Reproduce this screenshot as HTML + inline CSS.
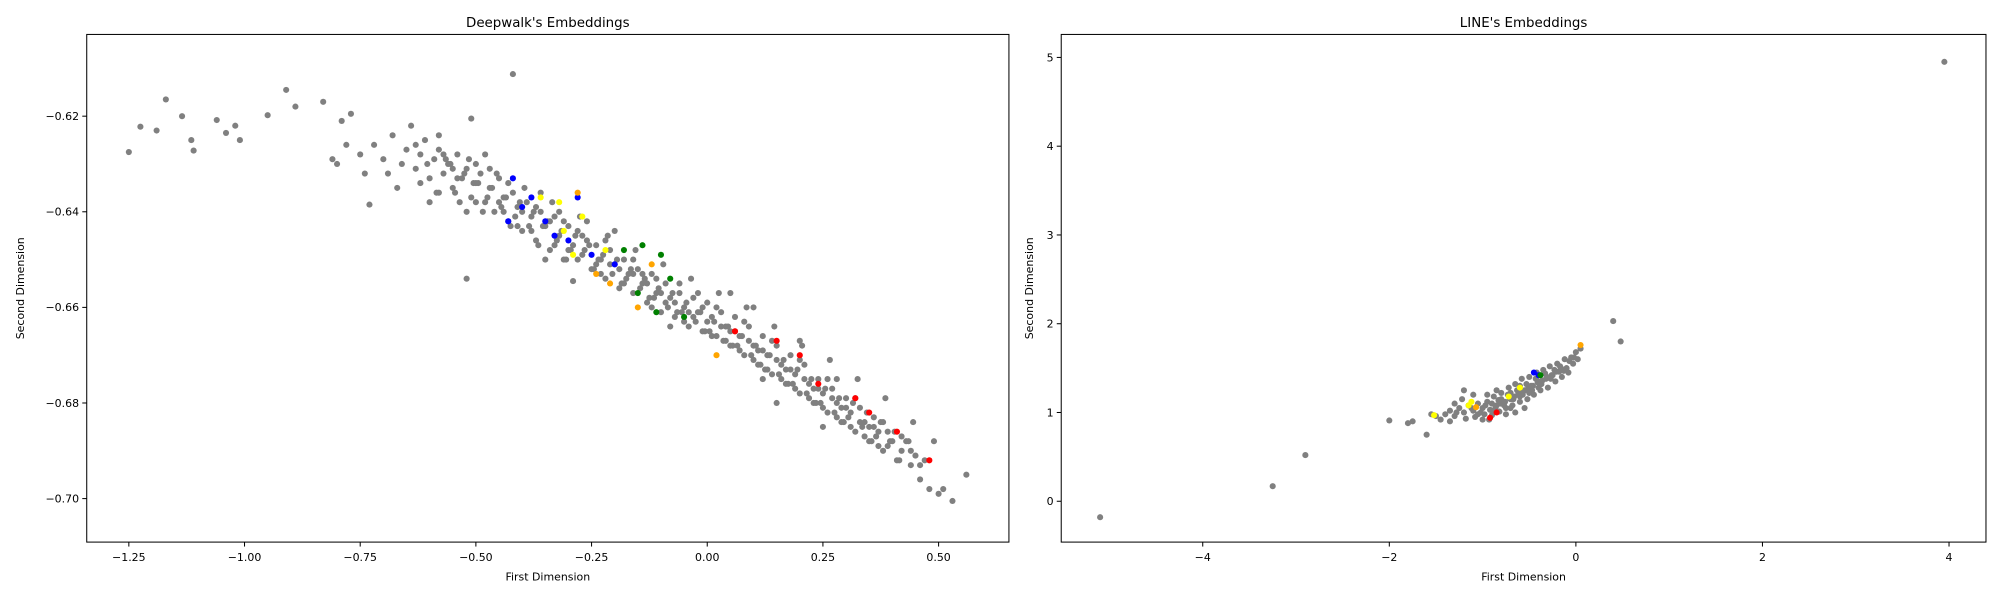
<!DOCTYPE html>
<html><head><meta charset="utf-8"><style>
html,body{margin:0;padding:0;background:#fff;}
svg{display:block;font-family:"DejaVu Sans","Liberation Sans",sans-serif;}
</style></head><body>
<svg id="fig" width="2000" height="600" xmlns="http://www.w3.org/2000/svg">
<rect width="2000" height="600" fill="#fff"/>
<g id="root" transform="scale(1.27551)"></g>
</svg>
<script>
// ---- Left chart data (Deepwalk) ----
const dwGrayX = [-1.25,-1.225,-1.19,-1.17,-1.135,-1.115,-1.11,-1.06,-1.04,-1.02,-1.01,-0.95,-0.91,-0.89,-0.83,-0.79,-0.77,-0.81,-0.80,-0.73,-0.42,-0.51,-0.52,-0.29,
-0.72,-0.70,-0.68,-0.66,-0.65,-0.64,-0.63,-0.62,-0.61,-0.60,-0.59,-0.58,-0.57,-0.56,-0.55,-0.54,-0.53,-0.52,-0.51,-0.50,-0.49,-0.48,-0.47,-0.46,-0.45,-0.44,-0.43,-0.42,-0.41,-0.40,-0.39,-0.38,-0.37,-0.36,-0.35,-0.34,-0.33,-0.32,-0.31,-0.30,-0.29,-0.28,-0.27,-0.26,-0.25,-0.24,-0.23,-0.22,-0.21,-0.20,-0.19,-0.18,-0.17,-0.16,-0.15,-0.14,-0.13,-0.12,-0.11,-0.10,-0.09,-0.08,-0.07,-0.06,-0.05,-0.04,-0.03,-0.02,-0.01,0.00,0.01,0.02,0.03,0.04,0.05,0.06,0.07,0.08,0.09,0.10,0.11,0.12,0.13,0.14,0.15,0.16,0.17,0.18,0.19,0.20,0.21,0.22,0.23,0.24,0.25,0.26,0.27,0.28,0.29,0.30,0.31,0.32,0.33,0.34,0.35,0.36,0.37,0.38,0.39,0.40,0.42,0.44,0.46,0.48,0.50,0.53,0.56,
-0.69,-0.63,-0.57,-0.55,-0.50,-0.45,-0.43,-0.40,-0.37,-0.34,-0.32,-0.30,-0.27,-0.24,-0.22,-0.19,-0.16,-0.14,-0.11,-0.09,-0.06,-0.04,-0.02,0.00,0.02,0.04,0.06,0.08,0.10,0.12,0.14,0.16,0.18,0.20,0.22,0.24,0.26,0.28,0.30,0.32,0.34,0.36,0.38,0.41,0.43,0.45,-0.60,-0.58,-0.35,-0.20,0.05,0.15,0.28,-0.48,-0.52,-0.75,-0.78,-0.74,-0.67,0.47,
-0.62,-0.58,-0.54,-0.50,-0.47,-0.44,-0.41,-0.38,-0.36,-0.33,-0.31,-0.28,-0.26,-0.23,-0.21,-0.18,-0.16,-0.13,-0.12,-0.10,-0.07,-0.05,-0.03,-0.01,0.01,0.03,0.05,0.07,0.09,0.11,0.13,0.15,0.17,0.19,0.21,0.23,0.25,0.27,0.29,0.31,0.33,0.35,0.37,0.39,0.42,0.44,0.46,0.49,0.51,0.10,0.20,-0.08,0.12,0.25,
-0.555,-0.525,-0.495,-0.465,-0.435,-0.405,-0.375,-0.345,-0.315,-0.285,-0.255,-0.225,-0.195,-0.165,-0.135,-0.105,-0.075,-0.045,-0.015,0.015,0.045,0.075,0.105,0.135,0.165,0.195,0.225,0.255,0.285,0.315,0.345,0.375,0.405,0.435,
-0.545,-0.515,-0.485,-0.455,-0.425,-0.395,-0.365,-0.335,-0.305,-0.275,-0.245,-0.215,-0.185,-0.155,-0.125,-0.095,-0.065,-0.035,-0.005,0.025,0.055,0.085,0.115,0.145,0.175,0.205,0.235,0.265,0.295,0.325,0.355,0.385,0.415,0.445,
-0.605,-0.585,-0.565,-0.535,-0.505,-0.475,-0.445,-0.415,-0.385,-0.355,-0.325,-0.295,-0.265,-0.235,-0.205,-0.175,-0.145,-0.115,-0.085,-0.055,-0.025,0.005,0.035,0.065,0.095,0.125,0.155,0.185,0.215,0.245,0.275,0.305,0.335,0.365,0.395];
const dwGrayY = [-0.6275,-0.6222,-0.623,-0.6165,-0.620,-0.625,-0.6272,-0.6208,-0.6235,-0.622,-0.625,-0.6198,-0.6145,-0.618,-0.617,-0.621,-0.6195,-0.629,-0.630,-0.6385,-0.6112,-0.6205,-0.654,-0.6545,
-0.626,-0.629,-0.624,-0.630,-0.627,-0.622,-0.631,-0.628,-0.625,-0.633,-0.629,-0.627,-0.632,-0.630,-0.635,-0.628,-0.633,-0.631,-0.637,-0.634,-0.632,-0.638,-0.635,-0.640,-0.633,-0.637,-0.642,-0.636,-0.639,-0.644,-0.638,-0.641,-0.646,-0.640,-0.643,-0.648,-0.641,-0.645,-0.650,-0.643,-0.647,-0.644,-0.649,-0.646,-0.652,-0.647,-0.650,-0.654,-0.648,-0.651,-0.656,-0.650,-0.653,-0.657,-0.652,-0.655,-0.659,-0.653,-0.657,-0.661,-0.655,-0.658,-0.662,-0.657,-0.660,-0.664,-0.658,-0.661,-0.665,-0.659,-0.662,-0.666,-0.661,-0.664,-0.668,-0.662,-0.666,-0.670,-0.664,-0.668,-0.672,-0.666,-0.670,-0.674,-0.668,-0.672,-0.676,-0.670,-0.674,-0.678,-0.672,-0.676,-0.680,-0.675,-0.678,-0.682,-0.677,-0.680,-0.684,-0.679,-0.682,-0.686,-0.681,-0.684,-0.688,-0.683,-0.686,-0.690,-0.686,-0.688,-0.690,-0.693,-0.696,-0.698,-0.699,-0.7005,-0.695,
-0.632,-0.626,-0.628,-0.631,-0.630,-0.638,-0.634,-0.640,-0.639,-0.642,-0.640,-0.648,-0.645,-0.651,-0.646,-0.652,-0.650,-0.653,-0.654,-0.659,-0.655,-0.661,-0.657,-0.663,-0.660,-0.667,-0.665,-0.663,-0.671,-0.669,-0.667,-0.675,-0.673,-0.671,-0.679,-0.677,-0.675,-0.683,-0.681,-0.679,-0.687,-0.685,-0.684,-0.692,-0.688,-0.691,-0.638,-0.624,-0.650,-0.644,-0.657,-0.680,-0.675,-0.628,-0.640,-0.628,-0.626,-0.632,-0.635,-0.692,
-0.634,-0.636,-0.633,-0.638,-0.631,-0.640,-0.643,-0.644,-0.636,-0.647,-0.642,-0.650,-0.642,-0.653,-0.651,-0.655,-0.653,-0.655,-0.660,-0.657,-0.659,-0.663,-0.662,-0.660,-0.666,-0.664,-0.665,-0.669,-0.667,-0.669,-0.673,-0.671,-0.673,-0.677,-0.675,-0.677,-0.681,-0.679,-0.681,-0.685,-0.684,-0.685,-0.689,-0.689,-0.687,-0.690,-0.693,-0.688,-0.698,-0.660,-0.667,-0.664,-0.675,-0.685,
-0.630,-0.632,-0.634,-0.635,-0.637,-0.638,-0.640,-0.642,-0.644,-0.645,-0.647,-0.649,-0.650,-0.652,-0.654,-0.656,-0.657,-0.659,-0.661,-0.663,-0.664,-0.666,-0.668,-0.670,-0.671,-0.673,-0.675,-0.677,-0.679,-0.680,-0.682,-0.684,-0.686,-0.688,
-0.636,-0.629,-0.640,-0.632,-0.643,-0.635,-0.647,-0.638,-0.650,-0.641,-0.652,-0.645,-0.655,-0.648,-0.658,-0.651,-0.661,-0.654,-0.665,-0.657,-0.668,-0.660,-0.672,-0.664,-0.676,-0.668,-0.680,-0.671,-0.684,-0.675,-0.688,-0.679,-0.692,-0.684,
-0.630,-0.636,-0.629,-0.638,-0.634,-0.637,-0.639,-0.641,-0.643,-0.643,-0.646,-0.648,-0.648,-0.650,-0.653,-0.654,-0.656,-0.658,-0.660,-0.661,-0.663,-0.665,-0.667,-0.668,-0.670,-0.673,-0.674,-0.676,-0.678,-0.680,-0.682,-0.683,-0.685,-0.687,-0.688];
const dwBlueX = [-0.42,-0.40,-0.43,-0.35,-0.30,-0.25,-0.28,-0.20,-0.38,-0.33];
const dwBlueY = [-0.633,-0.639,-0.642,-0.642,-0.646,-0.649,-0.637,-0.651,-0.637,-0.645];
const dwYellowX = [-0.36,-0.32,-0.27,-0.31,-0.22,-0.29];
const dwYellowY = [-0.637,-0.638,-0.641,-0.644,-0.648,-0.649];
const dwOrangeX = [-0.28,-0.24,-0.21,-0.12,0.02,-0.15];
const dwOrangeY = [-0.636,-0.653,-0.655,-0.651,-0.670,-0.660];
const dwGreenX = [-0.18,-0.14,-0.10,-0.08,-0.11,-0.15,-0.05];
const dwGreenY = [-0.648,-0.647,-0.649,-0.654,-0.661,-0.657,-0.662];
const dwRedX = [0.06,0.20,0.24,0.32,0.41,0.48,0.15,0.35];
const dwRedY = [-0.665,-0.670,-0.676,-0.679,-0.686,-0.692,-0.667,-0.682];
const dwXTicks = [-1.25,-1.00,-0.75,-0.50,-0.25,0.00,0.25,0.50];
const dwYTicks = [-0.62,-0.64,-0.66,-0.68,-0.70];

// ---- Right chart data (LINE) ----
const lnGrayX = [-1.40,-1.35,-1.30,-1.25,-1.20,-1.18,-1.15,-1.10,-1.08,-1.05,-1.00,-0.98,-0.95,-0.92,-0.90,-0.88,-0.85,-0.82,-0.80,-0.78,-0.75,-0.72,-0.70,-0.68,-0.65,-0.62,-0.60,-0.58,-0.55,-0.52,-0.50,-0.48,-0.45,-0.42,-0.40,-0.38,-0.35,-0.32,-0.30,-0.28,-0.25,-0.22,-0.20,-0.18,-0.15,-0.12,-0.10,-0.08,-0.05,-0.03,0.00,0.02,-1.30,-1.22,-1.45,-1.55,-1.35,-0.95,-0.70,-0.60,-0.50,-0.85,-0.40,-0.65,-0.75,-1.00,0.05,-1.60,-1.75,-1.80,-2.0,-2.9,-3.25,-5.1,3.95,0.40,0.48,-1.5,-1.20,-0.55,-1.1,
-1.28,-1.12,-1.02,-0.97,-0.88,-0.83,-0.77,-0.73,-0.67,-0.63,-0.57,-0.53,-0.47,-0.43,-0.37,-0.33,-0.27,-0.23,-0.17,-0.13,-0.07,-0.02,-0.90,-0.80,-0.60,-1.05,-0.93,-0.70,
-0.86,-0.76,-0.66,-0.56,-0.46,-0.36,-0.26,-0.16,-0.81,-0.71,-0.61,-0.51,-0.41,-0.31,-0.21];
const lnGrayY = [0.98,1.02,0.96,1.05,1.00,0.93,1.08,1.02,0.95,1.10,1.05,0.98,1.12,1.03,0.97,1.18,1.08,1.01,1.22,1.12,1.05,1.28,1.15,1.08,1.32,1.20,1.12,1.38,1.25,1.15,1.40,1.30,1.20,1.45,1.35,1.25,1.48,1.38,1.28,1.52,1.42,1.35,1.55,1.46,1.40,1.60,1.50,1.45,1.62,1.55,1.68,1.60,1.10,1.15,0.92,0.98,0.90,1.20,1.22,1.30,1.22,1.25,1.28,1.00,0.98,0.92,1.72,0.75,0.90,0.88,0.91,0.52,0.17,-0.18,4.95,2.03,1.80,0.96,1.25,1.05,1.2,
1.00,1.05,1.00,1.08,1.02,1.14,1.08,1.20,1.15,1.25,1.20,1.32,1.25,1.38,1.32,1.44,1.38,1.48,1.52,1.47,1.58,1.62,1.10,1.15,1.18,0.98,0.92,1.05,
1.06,1.12,1.18,1.24,1.30,1.36,1.42,1.50,1.10,1.16,1.22,1.28,1.34,1.40,1.46];
const lnYellowX = [-1.15,-1.12,-1.52,-0.60,-0.72];
const lnYellowY = [1.08,1.12,0.97,1.28,1.18];
const lnBlueX = [-0.45,-0.40];
const lnBlueY = [1.45,1.42];
const lnOrangeX = [0.05,-1.07];
const lnOrangeY = [1.76,1.06];
const lnRedX = [-0.92,-0.85];
const lnRedY = [0.94,1.0];
const lnGreenX = [-0.38];
const lnGreenY = [1.42];
const lnXTicks = [-4,-2,0,2,4];
const lnYTicks = [0,1,2,3,4,5];

const NS = "http://www.w3.org/2000/svg";
const root = document.getElementById('root');
function mk(tag, attrs, parent) {
  const e = document.createElementNS(NS, tag);
  for (const k in attrs) e.setAttribute(k, attrs[k]);
  (parent || root).appendChild(e);
  return e;
}
function fmt(v, d) { const s = Math.abs(v).toFixed(d); return (v < 0 ? '\u2212' : '') + s; }

function panel(cfg) {
  const g = mk('g', {});
  
  
  const L = cfg.left, R = cfg.right, T = 27, B = 425;
  const sx = v => L + (v - cfg.x0) / (cfg.x1 - cfg.x0) * (R - L);
  const sy = v => B - (v - cfg.y0) / (cfg.y1 - cfg.y0) * (B - T);
  const pg = mk('g', {}, g);
  
  
  cfg.series.forEach(s => {
    for (let i = 0; i < s.xs.length; i++) {
      const c = mk('circle', {cx: sx(s.xs[i]), cy: sy(s.ys[i]), r: 2.4, fill: s.color}, pg);
      
      
    }
  });
  const fr = mk('rect', {x: L, y: T, width: R - L, height: B - T, fill: 'none', stroke: '#000', 'stroke-width': 0.8}, g);
  
  
  cfg.xt.forEach(v => {
    const x = sx(v);
    mk('line', {x1: x, x2: x, y1: B, y2: B + 3.5, stroke: '#000', 'stroke-width': 0.8}, g);
    const t = mk('text', {x: x, y: B + 15, 'font-size': 8.6, 'text-anchor': 'middle'}, g);
    t.textContent = fmt(v, cfg.xd);
    
    
  });
  cfg.yt.forEach(v => {
    const y = sy(v);
    mk('line', {x1: L - 3.5, x2: L, y1: y, y2: y, stroke: '#000', 'stroke-width': 0.8}, g);
    const t = mk('text', {x: L - 6, y: y + 3, 'font-size': 8.6, 'text-anchor': 'end'}, g);
    t.textContent = fmt(v, cfg.yd);
    
    
  });
  const tt = mk('text', {x: (L + R) / 2, y: 21, 'font-size': 10.5, 'text-anchor': 'middle'}, g);
  tt.textContent = cfg.title;
  
  
  const xl = mk('text', {x: (L + R) / 2, y: 455, 'font-size': 8.6, 'text-anchor': 'middle'}, g);
  xl.textContent = 'First Dimension';
  
  
  const yx = cfg.ylx, yy = (T + B) / 2;
  const yl = mk('text', {x: yx, y: yy, 'font-size': 8.6, 'text-anchor': 'middle', transform: `rotate(-90 ${yx} ${yy})`}, g);
  yl.textContent = 'Second Dimension';
  
  
}

panel({name: 'deepwalk-chart', title: "Deepwalk's Embeddings", left: 68, right: 791,
  x0: -1.341, x1: 0.652, y0: -0.7091, y1: -0.6029, xt: dwXTicks, yt: dwYTicks, xd: 2, yd: 2, ylx: 19,
  series: [
    {xs: dwGrayX, ys: dwGrayY, color: '#808080', label: 'gray'},
    {xs: dwBlueX, ys: dwBlueY, color: '#0000ff', label: 'blue'},
    {xs: dwYellowX, ys: dwYellowY, color: '#ffff00', label: 'yellow'},
    {xs: dwOrangeX, ys: dwOrangeY, color: '#ffa500', label: 'orange'},
    {xs: dwGreenX, ys: dwGreenY, color: '#008000', label: 'green'},
    {xs: dwRedX, ys: dwRedY, color: '#ff0000', label: 'red'}
  ]});
panel({name: 'line-chart', title: "LINE's Embeddings", left: 832, right: 1557,
  x0: -5.517, x1: 4.396, y0: -0.46, y1: 5.259, xt: lnXTicks, yt: lnYTicks, xd: 0, yd: 0, ylx: 810,
  series: [
    {xs: lnGrayX, ys: lnGrayY, color: '#808080', label: 'gray'},
    {xs: lnYellowX, ys: lnYellowY, color: '#ffff00', label: 'yellow'},
    {xs: lnBlueX, ys: lnBlueY, color: '#0000ff', label: 'blue'},
    {xs: lnOrangeX, ys: lnOrangeY, color: '#ffa500', label: 'orange'},
    {xs: lnRedX, ys: lnRedY, color: '#ff0000', label: 'red'},
    {xs: lnGreenX, ys: lnGreenY, color: '#008000', label: 'green'}
  ]});
</script>
</body></html>
